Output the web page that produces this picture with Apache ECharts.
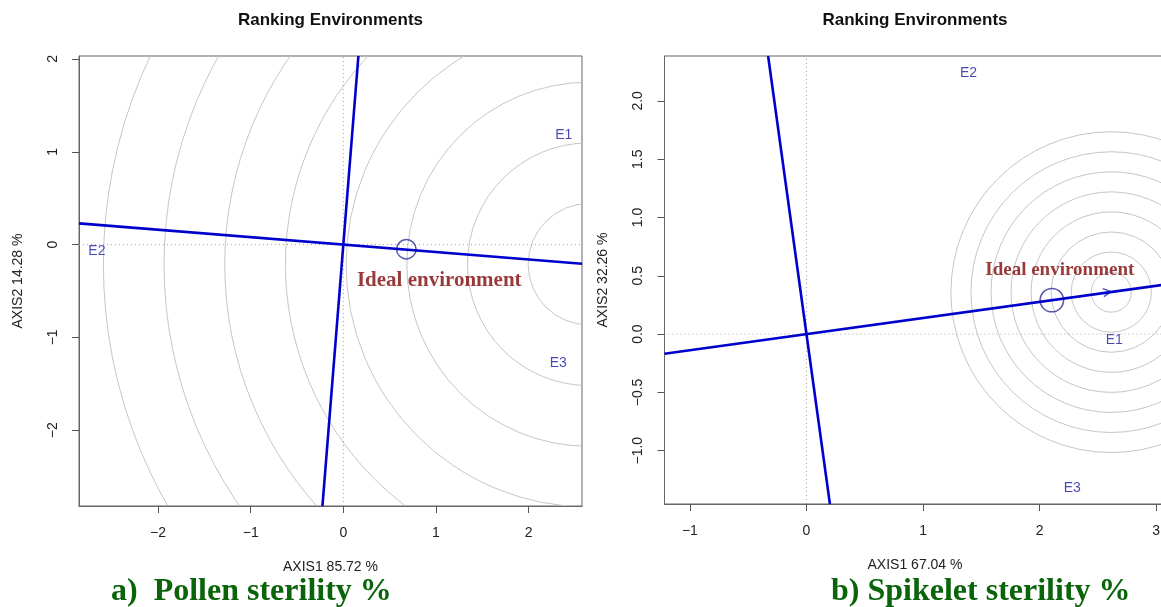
<!DOCTYPE html>
<html><head><meta charset="utf-8">
<script src="https://cdn.jsdelivr.net/npm/echarts@6/dist/echarts.min.js"></script>
<style>html,body{margin:0;padding:0;background:#fff}#c{width:1161px;height:607px}</style>
</head><body><div id="c"></div><script>
// ---------- Panel a: Pollen sterility % ----------
const aTitle = 'Ranking Environments';
const aCaption = 'a)  Pollen sterility %';
const aXName = 'AXIS1 85.72 %';
const aYName = 'AXIS2 14.28 %';
const aXRange = [-2.853, 2.576];
const aYRange = [-2.817, 2.032];
const aXTicks = [-2, -1, 0, 1, 2];
const aYTicks = [-2, -1, 0, 1, 2];
const aEnvNames = ['E1', 'E2', 'E3'];
const aEnvX = [2.38, -2.66, 2.32];
const aEnvY = [1.18, -0.076, -1.28];
const aMainLine = [[-2.853, 0.228], [2.576, -0.206]];
const aPerpLine = [[0.1626, 2.032], [-0.2254, -2.817]];
const aCenter = [2.65, -0.212];
const aRadii = [0.655, 1.31, 1.965, 2.62, 3.275, 3.93, 4.585, 5.24];
const aIdeal = [0.68, -0.05];
const aIdealText = [1.035, -0.385];

// ---------- Panel b: Spikelet sterility % ----------
const bTitle = 'Ranking Environments';
const bCaption = 'b) Spikelet sterility %';
const bXName = 'AXIS1 67.04 %';
const bYName = 'AXIS2 32.26 %';
const bXRange = [-1.218, 3.08];
const bYRange = [-1.457, 2.385];
const bXTicks = [-1, 0, 1, 2, 3];
const bYTicks = [-1.0, -0.5, 0.0, 0.5, 1.0, 1.5, 2.0];
const bEnvNames = ['E1', 'E2', 'E3'];
const bEnvX = [2.64, 1.39, 2.28];
const bEnvY = [-0.05, 2.24, -1.32];
const bMainLine = [[-1.218, -0.168], [3.08, 0.425]];
const bPerpLine = [[-0.329, 2.385], [0.201, -1.457]];
const bCenter = [2.615, 0.36];
const bRadii = [0.172, 0.344, 0.516, 0.688, 0.86, 1.032, 1.204, 1.376];
const bIdeal = [2.105, 0.291];
const bIdealText = [2.173, 0.548];

const SANS = 'Liberation Sans, Arial, sans-serif';
const SERIF = 'Liberation Serif, Times New Roman, serif';
const BLUE = '#0000cc';
const ENV_BLUE = '#1c1c9e';
const RED = '#800808';
const GREEN = '#0a650a';
const minus = s => String(s).replace('-', '\u2212');

function xAxisCfg(range, ticks, name, idx, fmt) {
  return {
    type: 'value', gridIndex: idx, min: range[0], max: range[1],
    name: name, nameLocation: 'middle', nameGap: 54,
    nameTextStyle: { fontFamily: SANS, fontSize: 14, color: '#222' },
    splitLine: { show: false },
    axisLine: { show: true, onZero: false, lineStyle: { color: '#666', width: 1 } },
    axisTick: { show: true, inside: false, length: 7, customValues: ticks, lineStyle: { color: '#555' } },
    axisLabel: { show: true, customValues: ticks, margin: 20, fontFamily: SANS, fontSize: 14, color: '#222', formatter: fmt }
  };
}
function yAxisCfg(range, ticks, name, idx, fmt) {
  return {
    type: 'value', gridIndex: idx, min: range[0], max: range[1],
    name: name, nameLocation: 'middle', nameGap: 54,
    nameTextStyle: { fontFamily: SANS, fontSize: 14, color: '#222' },
    splitLine: { show: false },
    axisLine: { show: true, onZero: false, lineStyle: { color: '#666', width: 1 } },
    axisTick: { show: true, inside: false, length: 7, customValues: ticks, lineStyle: { color: '#555' } },
    axisLabel: { show: true, rotate: 90, customValues: ticks, margin: 19, fontFamily: SANS, fontSize: 14, color: '#222', formatter: fmt }
  };
}

function panelSeries(i, xr, yr, center, radii, mainLine, perpLine, ideal, idealR, idealText, idealFont, envN, envX, envY, angle) {
  const base = { xAxisIndex: i, yAxisIndex: i, silent: true, animation: false };
  return [
    Object.assign({}, base, {
      type: 'custom', clip: true,
      data: radii.map(r => [center[0], center[1], r]),
      renderItem: function (params, api) {
        const c = api.coord([api.value(0), api.value(1)]);
        const r = api.size([api.value(2), 0])[0];
        return { type: 'circle', shape: { cx: c[0], cy: c[1], r: r },
          style: { fill: 'none', stroke: '#c6c6c6', lineWidth: 1 } };
      }
    }),
    Object.assign({}, base, {
      type: 'line', symbol: 'none', data: [[xr[0], 0], [xr[1], 0]],
      lineStyle: { color: '#a0a0a0', width: 1, type: [1, 3] }
    }),
    Object.assign({}, base, {
      type: 'line', symbol: 'none', data: [[0, yr[0]], [0, yr[1]]],
      lineStyle: { color: '#a0a0a0', width: 1, type: [1, 3] }
    }),
    Object.assign({}, base, {
      type: 'line', symbol: 'none', data: mainLine, clip: true,
      lineStyle: { color: BLUE, width: 2.6 }
    }),
    Object.assign({}, base, {
      type: 'line', symbol: 'none', data: perpLine, clip: true,
      lineStyle: { color: BLUE, width: 2.6 }
    }),
    Object.assign({}, base, {
      type: 'scatter', clip: true, data: [center],
      symbol: 'path://M0,0 L10,5 L0,10', symbolSize: [8, 8], symbolOffset: [-4, 0], symbolRotate: angle,
      itemStyle: { color: 'rgba(0,0,0,0)', borderColor: '#2222bb', borderWidth: 1.3 }
    }),
    Object.assign({}, base, {
      type: 'scatter', data: [ideal], symbol: 'circle', symbolSize: idealR * 2,
      itemStyle: { color: 'rgba(0,0,0,0)', borderColor: '#2c2c99', borderWidth: 1.5 }
    }),
    Object.assign({}, base, {
      type: 'scatter', data: envN.map((n, k) => ({ name: n, value: [envX[k], envY[k]] })),
      symbolSize: 1, itemStyle: { color: 'rgba(0,0,0,0)' },
      label: { show: true, position: 'inside', formatter: '{b}', fontFamily: SANS, fontSize: 14, color: ENV_BLUE }
    }),
    Object.assign({}, base, {
      type: 'scatter', data: [{ name: 'Ideal environment', value: idealText }],
      symbolSize: 1, itemStyle: { color: 'rgba(0,0,0,0)' },
      label: { show: true, position: 'inside', formatter: '{b}', fontFamily: SERIF, fontWeight: 'bold', fontSize: idealFont, color: RED }
    })
  ];
}

const chart = echarts.init(document.getElementById('c'), null, { renderer: 'canvas' });
const option = {
  animation: false,
  backgroundColor: '#ffffff',
  grid: [
    { left: 79, top: 56, width: 503, height: 450, outerBoundsMode: 'none', containLabel: false, show: true, borderColor: '#666', borderWidth: 1, backgroundColor: 'transparent' },
    { left: 664.5, top: 56, width: 501, height: 448, outerBoundsMode: 'none', containLabel: false, show: true, borderColor: '#666', borderWidth: 1, backgroundColor: 'transparent' }
  ],
  xAxis: [
    xAxisCfg(aXRange, aXTicks, aXName, 0, v => minus(v)),
    xAxisCfg(bXRange, bXTicks, bXName, 1, v => minus(v))
  ],
  yAxis: [
    yAxisCfg(aYRange, aYTicks, aYName, 0, v => minus(v)),
    yAxisCfg(bYRange, bYTicks, bYName, 1, v => minus(Number(v).toFixed(1)))
  ],
  series: [].concat(
    panelSeries(0, aXRange, aYRange, aCenter, aRadii, aMainLine, aPerpLine, aIdeal, 9.7, aIdealText, 21, aEnvNames, aEnvX, aEnvY, -4.6),
    panelSeries(1, bXRange, bYRange, bCenter, bRadii, bMainLine, bPerpLine, bIdeal, 11.7, bIdealText, 19, bEnvNames, bEnvX, bEnvY, 7.9)
  ),
  graphic: [
    { type: 'text', x: 330.5, y: 20, style: { text: aTitle, fontFamily: SANS, fontWeight: 'bold', fontSize: 17, fill: '#111', align: 'center', verticalAlign: 'middle' } },
    { type: 'text', x: 915, y: 20, style: { text: bTitle, fontFamily: SANS, fontWeight: 'bold', fontSize: 17, fill: '#111', align: 'center', verticalAlign: 'middle' } },
    { type: 'text', x: 111, y: 592, style: { text: aCaption, fontFamily: SERIF, fontWeight: 'bold', fontSize: 32, fill: GREEN, align: 'left', verticalAlign: 'middle' } },
    { type: 'text', x: 831, y: 592, style: { text: bCaption, fontFamily: SERIF, fontWeight: 'bold', fontSize: 32, fill: GREEN, align: 'left', verticalAlign: 'middle' } }
  ]
};
chart.setOption(option);
</script></body></html>
